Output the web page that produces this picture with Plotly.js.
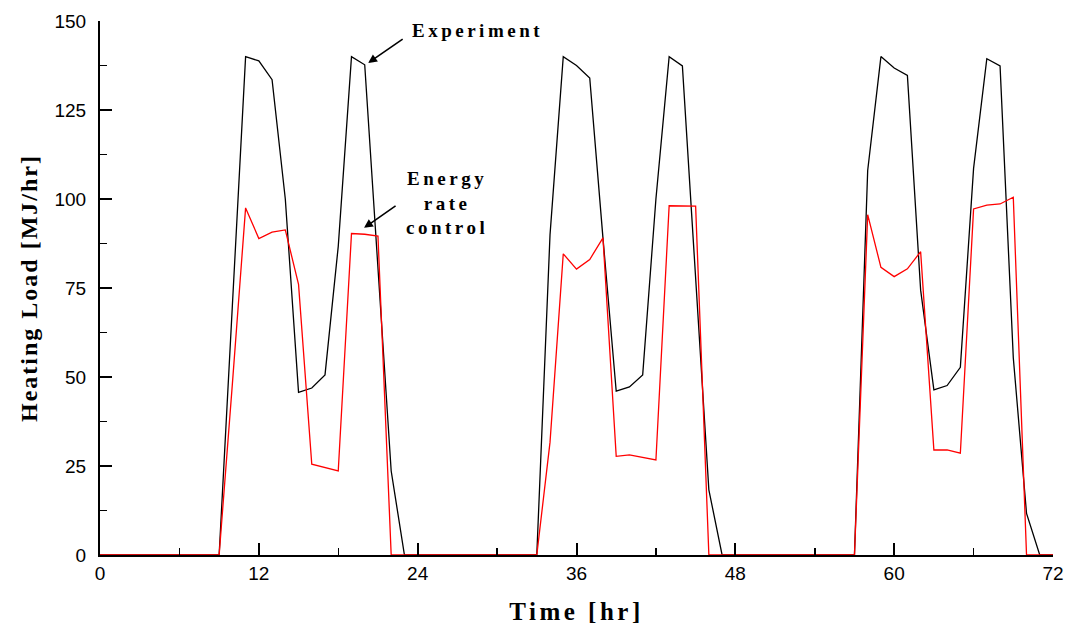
<!DOCTYPE html>
<html>
<head>
<meta charset="utf-8">
<script src="https://cdn.plot.ly/plotly-3.0.1.min.js"></script>
<style>
  html, body { margin:0; padding:0; background:#fff; }
  #chart { width:1068px; height:632px; }
  .xtitle { letter-spacing: 3.5px; }
  .ytitle { letter-spacing: 2px; }
  .annotation-text { letter-spacing: 3.5px; }
</style>
</head>
<body>
<div id="chart"></div>
<script>
// Time in hours (hourly samples)
const hours = [];
for (let h = 0; h <= 72; h++) hours.push(h);

// Heating load, experiment [MJ/hr]
const experiment = [
  0, 0, 0, 0, 0, 0, 0, 0, 0, 0,
  70, 140, 138.8, 133.5, 100, 45.7, 46.9, 50.6, 86.7, 140,
  137.7, 80, 23.6, 0, 0, 0, 0, 0, 0, 0,
  0, 0, 0, 0, 90, 140, 137.5, 134, 89, 46,
  47.2, 50.6, 100, 140, 137.4, 78, 18.3, 0, 0, 0,
  0, 0, 0, 0, 0, 0, 0, 0, 108, 140,
  136.8, 134.7, 74.4, 46.4, 47.6, 52.7, 108.6, 139.4, 137.4, 55.4,
  11.7, 0, 0
];

// Heating load, energy rate control [MJ/hr]
const energyRate = [
  0, 0, 0, 0, 0, 0, 0, 0, 0, 0,
  48, 97.5, 88.9, 90.7, 91.3, 76, 25.5, 24.5, 23.6, 90.3,
  90.1, 89.6, 0, 0, 0, 0, 0, 0, 0, 0,
  0, 0, 0, 0, 31.7, 84.6, 80.3, 83, 89.1, 27.7,
  28.1, 27.4, 26.7, 98.1, 98.1, 98, 0, 0, 0, 0,
  0, 0, 0, 0, 0, 0, 0, 0, 95.6, 80.8,
  78.2, 80.4, 85.2, 29.5, 29.5, 28.6, 97.2, 98.3, 98.6, 100.5,
  0, 0, 0
];

const xTickVals = [0, 12, 24, 36, 48, 60, 72];
const yTickVals = [0, 25, 50, 75, 100, 125, 150];

const traces = [
  { x: hours, y: experiment, type: 'scatter', mode: 'lines', name: 'Experiment',
    line: { color: '#000000', width: 1.3 }, cliponaxis: false },
  { x: hours, y: energyRate, type: 'scatter', mode: 'lines', name: 'Energy rate control',
    line: { color: '#ff0000', width: 1.3 }, cliponaxis: false }
];

const serif = 'Liberation Serif, Times New Roman, serif';
const sans = 'Liberation Sans, Arial, sans-serif';

const layout = {
  width: 1068, height: 632,
  margin: { l: 100, r: 15, t: 21, b: 77 },
  paper_bgcolor: '#ffffff', plot_bgcolor: '#ffffff',
  showlegend: false,
  xaxis: {
    range: [0, 72], tickvals: xTickVals, ticktext: xTickVals.map(String),
    showgrid: false, zeroline: false,
    showline: true, linecolor: '#000', linewidth: 2,
    ticks: 'inside', ticklen: 12, tickwidth: 2, tickcolor: '#000',
    minor: { dtick: 6, tick0: 0, ticks: 'inside', ticklen: 7, tickwidth: 1.5, tickcolor: '#000', showgrid: false },
    tickfont: { family: sans, size: 19, color: '#000' },
    title: { text: 'Time [hr]', font: { family: serif, size: 25, color: '#000', weight: 'bold' }, standoff: 20 }
  },
  yaxis: {
    range: [0, 150], tickvals: yTickVals, ticktext: yTickVals.map(String),
    showgrid: false, zeroline: false,
    showline: true, linecolor: '#000', linewidth: 2,
    ticks: 'inside', ticklen: 12, tickwidth: 2, tickcolor: '#000',
    minor: { dtick: 12.5, tick0: 0, ticks: 'inside', ticklen: 7, tickwidth: 1.5, tickcolor: '#000', showgrid: false },
    tickfont: { family: sans, size: 19, color: '#000' },
    ticklabelstandoff: 8,
    title: { text: 'Heating Load [MJ/hr]', font: { family: serif, size: 24, color: '#000', weight: 'bold' }, standoff: 10 }
  },
  annotations: [
    { x: 28.5, y: 147.4, xref: 'x', yref: 'y', text: 'Experiment', showarrow: false,
      font: { family: serif, size: 19, color: '#000', weight: 'bold' } },
    { x: 20.26, y: 138.2, xref: 'x', yref: 'y', text: '', showarrow: true,
      ax: 36, ay: -25, arrowhead: 2, arrowsize: 1.1, arrowwidth: 1.6, arrowcolor: '#000' },
    { x: 26.2, y: 99, xref: 'x', yref: 'y', text: 'Energy<br>rate<br>control', showarrow: false,
      align: 'center',
      font: { family: serif, size: 19, color: '#000', weight: 'bold' } },
    { x: 19.95, y: 91.9, xref: 'x', yref: 'y', text: '', showarrow: true,
      ax: 33, ay: -23, arrowhead: 2, arrowsize: 1.1, arrowwidth: 1.6, arrowcolor: '#000' }
  ]
};

Plotly.newPlot('chart', traces, layout, { displayModeBar: false, staticPlot: true });
</script>
</body>
</html>
